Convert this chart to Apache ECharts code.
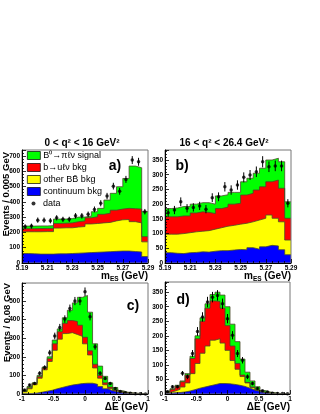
<!DOCTYPE html>
<html>
<head>
<meta charset="utf-8">
<script src="https://cdn.jsdelivr.net/npm/echarts@6/dist/echarts.min.js"></script>
<style>
html, body { margin: 0; padding: 0; background: #fff; }
#chart { width: 320px; height: 414px; }
</style>
</head>
<body>
<div id="chart"></div>
<script>
// mES: 20 bins of 0.005 GeV from 5.19, x axis counted in bins
const mesLo = 5.19;
const mesBin = 0.005;
const mesTicks = ['5.19', '5.21', '5.23', '5.25', '5.27', '5.29'];
// deltaE: 25 bins of 0.08 GeV from -1
const deLo = -1;
const deBin = 0.08;

// cumulative heights of the stack (top of each colour), data and errors
// a) 0 < q2 < 16
const aTotal = [241, 241, 242, 242, 244, 287, 287, 290, 300, 300, 306, 335, 357, 411, 455, 498, 552, 633, 622, 336];
const aUlnu  = [224, 224, 225, 226, 226, 258, 260, 262, 270, 275, 295, 302, 318, 325, 345, 352, 357, 355, 352, 172];
const aBB    = [204, 204, 204, 205, 205, 228, 230, 230, 235, 238, 255, 258, 262, 265, 275, 282, 284, 270, 262, 138];
const aCont  = [62, 60, 58, 58, 58, 60, 60, 62, 64, 66, 68, 70, 72, 74, 76, 78, 78, 75, 72, 42];
const aData  = [237, 241, 280, 280, 276, 295, 285, 285, 308, 308, 318, 350, 390, 437, 502, 468, 546, 672, 661, 335];
const aErr   = [16, 16, 17, 17, 17, 17, 17, 17, 18, 18, 18, 19, 20, 21, 22, 22, 23, 26, 26, 18];

// b) 16 < q2 < 26.4
const bTotal = [185, 187, 192, 192, 200, 205, 205, 200, 228, 232, 240, 240, 276, 288, 305, 322, 350, 356, 344, 208];
const bUlnu  = [157, 157, 160, 160, 170, 174, 172, 168, 185, 190, 200, 203, 231, 237, 248, 259, 276, 282, 254, 152];
const bBB    = [98, 98, 100, 103, 106, 108, 110, 115, 120, 125, 128, 132, 135, 140, 146, 152, 163, 152, 140, 78];
const bCont  = [35, 33, 32, 35, 36, 38, 37, 40, 42, 42, 44, 46, 45, 52, 47, 55, 60, 58, 45, 28];
const bData  = [171, 180, 208, 186, 189, 194, 183, 222, 225, 259, 248, 265, 291, 299, 310, 344, 327, 330, 330, 203];
const bErr   = [14, 14, 15, 14, 14, 14, 14, 15, 15, 16, 16, 16, 17, 17, 18, 19, 18, 18, 18, 14];

// c) 0 < q2 < 16, deltaE
const cTotal = [21, 40, 60, 100, 145, 200, 290, 350, 410, 450, 490, 520, 530, 440, 270, 150, 95, 60, 35, 18, 10, 6, 4, 3, 2];
const cUlnu  = [14, 33, 57, 93, 140, 190, 270, 335, 380, 395, 390, 370, 305, 232, 160, 100, 60, 37, 22, 13, 7, 5, 3, 2, 1];
const cBB    = [12, 28, 50, 85, 130, 175, 235, 295, 325, 330, 320, 310, 270, 210, 140, 85, 50, 30, 18, 10, 6, 4, 2, 1, 1];
const cCont  = [2, 3, 5, 10, 15, 20, 28, 35, 42, 48, 52, 56, 58, 58, 52, 40, 28, 18, 12, 8, 5, 3, 2, 1, 1];
const cData  = [21, 48, 57, 111, 142, 222, 312, 358, 403, 460, 500, 500, 550, 416, 254, 111, 84, 57, 30, 13, 7, 4, 2, 2, 0];
const cErr   = [5, 7, 8, 11, 12, 15, 18, 19, 20, 21, 22, 22, 23, 20, 16, 11, 9, 8, 6, 4, 3, 2, 1.5, 1.5, 0];

// d) 16 < q2 < 26.4, deltaE
const dTotal = [10, 18, 30, 45, 70, 130, 200, 262, 310, 342, 350, 340, 300, 240, 180, 120, 75, 45, 25, 12, 7, 4, 2, 1, 1];
const dUlnu  = [8, 16, 27, 42, 65, 122, 190, 250, 295, 320, 318, 295, 235, 165, 105, 65, 40, 24, 14, 7, 4, 3, 2, 1, 1];
const dBB    = [5, 10, 16, 24, 38, 70, 105, 140, 165, 185, 190, 175, 150, 115, 85, 60, 38, 22, 12, 6, 4, 2, 1, 1, 0];
const dCont  = [3, 4, 5, 7, 10, 15, 20, 24, 28, 32, 36, 36, 35, 33, 30, 26, 20, 14, 9, 5, 3, 2, 1, 1, 0];
const dData  = [8, 25, 25, 71, 59, 139, 215, 265, 316, 333, 339, 310, 259, 202, 139, 116, 59, 36, 19, 11, 7, 3, 2, 2, 1];
const dErr   = [3, 5, 5, 8, 8, 12, 15, 16, 18, 18, 18, 18, 16, 14, 12, 11, 8, 6, 4, 3, 2.5, 1.5, 1.5, 1.5, 1];

const names = ['B\u2070\u2192\u03c0\u2113\u03bd signal', 'b\u2192u\u2113\u03bd bkg', 'other BB\u0304 bkg', 'continuum bkg'];
const fills = ['#00ff00', '#ff0000', '#ffff00', '#0000ff'];
const font = 'Liberation Sans, Arial, sans-serif';

const chart = echarts.init(document.getElementById('chart'));

// histogram outline as step line: left edges plus closing right edge
function steps(lo, w, vals) {
  const pts = vals.map((v, i) => [lo + i * w, v]);
  pts.push([lo + vals.length * w, vals[vals.length - 1]]);
  return pts;
}

function panelSeries(idx, lo, w, layers, data, err) {
  const out = layers.map((vals, k) => ({
    name: names[k],
    type: 'line',
    step: 'end',
    xAxisIndex: idx,
    yAxisIndex: idx,
    data: steps(lo, w, vals),
    symbol: 'none',
    silent: true,
    itemStyle: { color: fills[k] },
    lineStyle: { color: '#4a4a2a', width: 0.8 },
    areaStyle: { color: fills[k], opacity: 1 }
  }));
  // vertical error bars
  out.push({
    type: 'custom',
    xAxisIndex: idx,
    yAxisIndex: idx,
    silent: true,
    data: data.map((v, i) => [lo + (i + 0.5) * w, v, err[i]]),
    encode: { x: 0, y: 1 },
    renderItem: (params, api) => {
      const x = api.value(0), v = api.value(1), e = api.value(2);
      const p1 = api.coord([x, v - e]);
      const p2 = api.coord([x, v + e]);
      return {
        type: 'line',
        shape: { x1: p1[0], y1: p1[1], x2: p2[0], y2: p2[1] },
        style: { stroke: '#000', lineWidth: 1 }
      };
    },
    z: 4
  });
  out.push({
    name: 'data',
    type: 'scatter',
    xAxisIndex: idx,
    yAxisIndex: idx,
    silent: true,
    symbol: 'circle',
    symbolSize: 3.5,
    itemStyle: { color: '#000' },
    data: data.map((v, i) => [lo + (i + 0.5) * w, v]),
    z: 5
  });
  return out;
}

function xAxisCfg(idx, min, max, interval, minorSplit, formatter) {
  return {
    type: 'value',
    gridIndex: idx,
    min: min,
    max: max,
    interval: interval,
    z: 10,
    axisLine: { show: true, onZero: false, lineStyle: { color: '#000', width: 1 } },
    axisTick: { show: true, inside: true, length: 4, lineStyle: { color: '#000', width: 0.8 } },
    minorTick: { show: true, splitNumber: minorSplit, length: 2, lineStyle: { color: '#000', width: 0.8 } },
    splitLine: { show: false },
    minorSplitLine: { show: false },
    axisLabel: { fontSize: 6.5, fontWeight: 'bold', color: '#000', margin: 1.5, fontFamily: font, formatter: formatter }
  };
}

function yAxisCfg(idx, max, interval) {
  return {
    type: 'value',
    gridIndex: idx,
    min: 0,
    max: max,
    interval: interval,
    z: 10,
    axisLine: { show: true, onZero: false, lineStyle: { color: '#000', width: 1 } },
    axisTick: { show: true, inside: true, length: 4, lineStyle: { color: '#000', width: 0.8 } },
    minorTick: { show: true, splitNumber: 5, length: 2, lineStyle: { color: '#000', width: 0.8 } },
    splitLine: { show: false },
    minorSplitLine: { show: false },
    axisLabel: { fontSize: 6.5, fontWeight: 'bold', color: '#000', margin: 2, fontFamily: font, showMaxLabel: false }
  };
}

const mesFmt = v => mesTicks[Math.round(v / 4)];
const deFmt = v => String(Math.round(v * 10) / 10);

const gridBase = { show: true, z: 10, borderColor: '#777', borderWidth: 1, backgroundColor: 'transparent' };

const txt = { fontWeight: 'bold', fontFamily: font, fill: '#000' };
const nameRich = {
  n: { fontSize: 10, fontWeight: 'bold', fontFamily: font, fill: '#000' },
  s: { fontSize: 6.5, fontWeight: 'bold', fontFamily: font, fill: '#000', verticalAlign: 'bottom', padding: [6, 0, 0, 0] }
};
function label(x, y, text, size) {
  return { type: 'text', x: x, y: y, z: 20,
    style: Object.assign({ text: text, textAlign: 'center', textVerticalAlign: 'middle', fontSize: size }, txt) };
}
function vlabel(x, y, text) {
  return { type: 'text', x: x, y: y, z: 20, rotation: Math.PI / 2,
    style: Object.assign({ text: text, textAlign: 'right', textVerticalAlign: 'middle', fontSize: 9.5 }, txt) };
}
function axisName(x, y, text) {
  return { type: 'text', x: x, y: y, z: 20,
    style: { text: text, rich: nameRich, textAlign: 'right', textVerticalAlign: 'middle' } };
}

const option = {
  animation: false,
  grid: [
    Object.assign({ left: 22, top: 150, width: 126, height: 113 }, gridBase),
    Object.assign({ left: 165, top: 150, width: 126, height: 113 }, gridBase),
    Object.assign({ left: 22, top: 283, width: 126, height: 111 }, gridBase),
    Object.assign({ left: 165, top: 282, width: 125, height: 112 }, gridBase)
  ],
  xAxis: [
    xAxisCfg(0, 0, 20, 4, 4, mesFmt),
    xAxisCfg(1, 0, 20, 4, 4, mesFmt),
    xAxisCfg(2, -1, 1, 0.5, 5, deFmt),
    xAxisCfg(3, -1, 1, 0.5, 5, deFmt)
  ],
  yAxis: [
    yAxisCfg(0, 738, 100),
    yAxisCfg(1, 384, 50),
    yAxisCfg(2, 597, 100),
    yAxisCfg(3, 385, 50)
  ],
  legend: [
    {
      data: names,
      orient: 'vertical',
      left: 27,
      top: 151,
      padding: 0,
      itemWidth: 13,
      itemHeight: 8,
      itemGap: 3,
      icon: 'rect',
      selectedMode: false,
      itemStyle: { borderColor: '#000', borderWidth: 0.7 },
      textStyle: { fontSize: 9, fontFamily: font, color: '#000', padding: [0, 0, 0, -2] }
    },
    {
      data: ['data'],
      orient: 'vertical',
      left: 31.5,
      top: 199,
      padding: 0,
      itemWidth: 4,
      itemHeight: 4,
      icon: 'circle',
      selectedMode: false,
      textStyle: { fontSize: 9, fontFamily: font, color: '#000', padding: [0, 0, 0, 2.5] }
    }
  ],
  graphic: [
    label(82, 143, '0 < q\u00b2 < 16 GeV\u00b2', 10),
    label(224, 143, '16 < q\u00b2 < 26.4 GeV\u00b2', 10),
    label(115, 166, 'a)', 14),
    label(182, 166, 'b)', 14),
    label(133, 306, 'c)', 14),
    label(183, 300, 'd)', 14),
    vlabel(6, 152, 'Events / 0.005 GeV'),
    vlabel(7, 283, 'Events / 0.08 GeV'),
    axisName(148, 276, '{n|m}{s|ES}{n| (GeV)}'),
    axisName(291, 276, '{n|m}{s|ES}{n| (GeV)}'),
    axisName(148, 407, '{n|\u0394E (GeV)}'),
    axisName(290, 407, '{n|\u0394E (GeV)}')
  ],
  series: [].concat(
    panelSeries(0, 0, 1, [aTotal, aUlnu, aBB, aCont], aData, aErr),
    panelSeries(1, 0, 1, [bTotal, bUlnu, bBB, bCont], bData, bErr),
    panelSeries(2, deLo, deBin, [cTotal, cUlnu, cBB, cCont], cData, cErr),
    panelSeries(3, deLo, deBin, [dTotal, dUlnu, dBB, dCont], dData, dErr)
  )
};

chart.setOption(option);
</script>
</body>
</html>
